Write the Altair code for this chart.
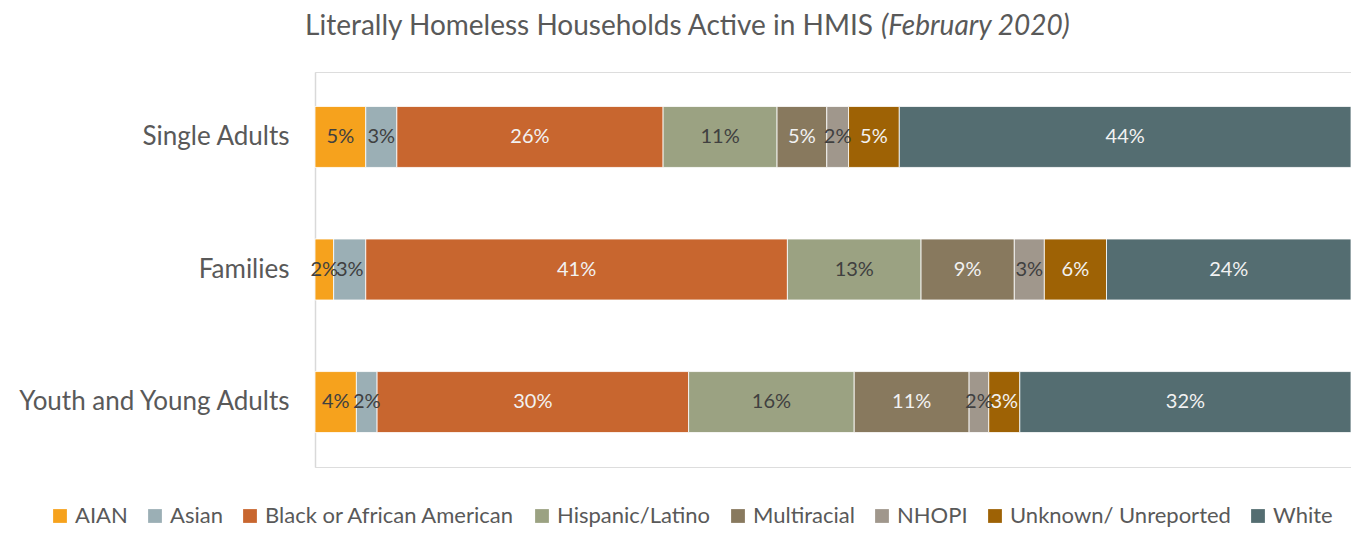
import altair as alt
import pandas as pd

groups = ["Single Adults", "Families", "Youth and Young Adults"]
categories = ["AIAN", "Asian", "Black or African American", "Hispanic/Latino",
              "Multiracial", "NHOPI", "Unknown/ Unreported", "White"]
colors = ["#F6A21D", "#9BAFB5", "#C8662F", "#9BA282",
          "#88795E", "#A0978C", "#9E6205", "#546D71"]
label_colors = ["#404040", "#404040", "#F2F2F2", "#404040",
                "#F2F2F2", "#404040", "#F2F2F2", "#F2F2F2"]

single_adults = [4.9, 3.0, 25.7, 11.0, 4.8, 2.1, 4.9, 43.6]
families = [1.8, 3.1, 40.7, 12.9, 9.0, 2.9, 6.0, 23.6]
youth = [4.0, 2.0, 30.1, 16.0, 11.1, 1.9, 3.0, 32.0]

title_main = "Literally Homeless Households Active in HMIS"
title_italic = "(February 2020)"

FONT = "Lato"

rows = []
for g, vals in zip(groups, [single_adults, families, youth]):
    total = sum(vals)
    cum = 0.0
    for i, (c, v) in enumerate(zip(categories, vals)):
        start = cum / total
        cum += v
        end = cum / total
        rows.append({"group": g, "cat": c, "order": i, "pct": v / total,
                     "start": start, "end": end, "mid": (start + end) / 2,
                     "lc": label_colors[i]})
df = pd.DataFrame(rows)

base = alt.Chart(df)

yenc = alt.Y("group:N", sort=groups, title=None,
             scale=alt.Scale(paddingInner=0.54, paddingOuter=0.26),
             axis=alt.Axis(ticks=False, domain=True, domainColor="#D9D9D9",
                           domainWidth=1.5, labelFont=FONT, labelFontSize=26,
                           labelColor="#595959", labelPadding=26, grid=False,
                           labelLimit=320))

xscale = alt.Scale(domain=[0, 1], nice=False, zero=True)

bars = base.mark_bar(stroke="#FFFFFF", strokeWidth=0.8).encode(
    x=alt.X("start:Q", scale=xscale, axis=None),
    x2="end:Q",
    y=yenc,
    color=alt.Color("cat:N", sort=categories,
                    scale=alt.Scale(domain=categories, range=colors),
                    legend=alt.Legend(title=None, orient="none", direction="horizontal",
                                      legendX=-266, legendY=433,
                                      symbolType="square", symbolSize=190,
                                      symbolStrokeWidth=0, labelFont=FONT,
                                      labelFontSize=22, labelColor="#595959",
                                      labelOffset=4, columnPadding=16,
                                      labelLimit=400)),
    order="order:Q",
)

labels = base.mark_text(font=FONT, fontSize=20, baseline="middle", align="center").encode(
    x=alt.X("mid:Q", scale=xscale),
    y=alt.Y("group:N", sort=groups),
    text=alt.Text("pct:Q", format=".0%"),
    color=alt.Color("lc:N", scale=None, legend=None),
)

t1 = alt.Chart(pd.DataFrame({"t": [title_main]})).mark_text(
    font=FONT, fontSize=28, color="#595959", align="right", baseline="middle"
).encode(text="t:N", x=alt.value(558), y=alt.value(-45))

t2 = alt.Chart(pd.DataFrame({"t": [title_italic]})).mark_text(
    font=FONT, fontSize=28, color="#595959", align="left", baseline="middle",
    fontStyle="italic"
).encode(text="t:N", x=alt.value(566), y=alt.value(-45))

chart = alt.layer(bars, labels, t1, t2).properties(
    width=1036, height=395,
    autosize=alt.AutoSizeParams(type="none"),
    padding={"left": 307, "top": 64, "right": 0, "bottom": 61},
).configure_view(stroke=None).configure(background="#FFFFFF")

chart.save("out.html", embed_options={"renderer": "svg", "actions": False})
